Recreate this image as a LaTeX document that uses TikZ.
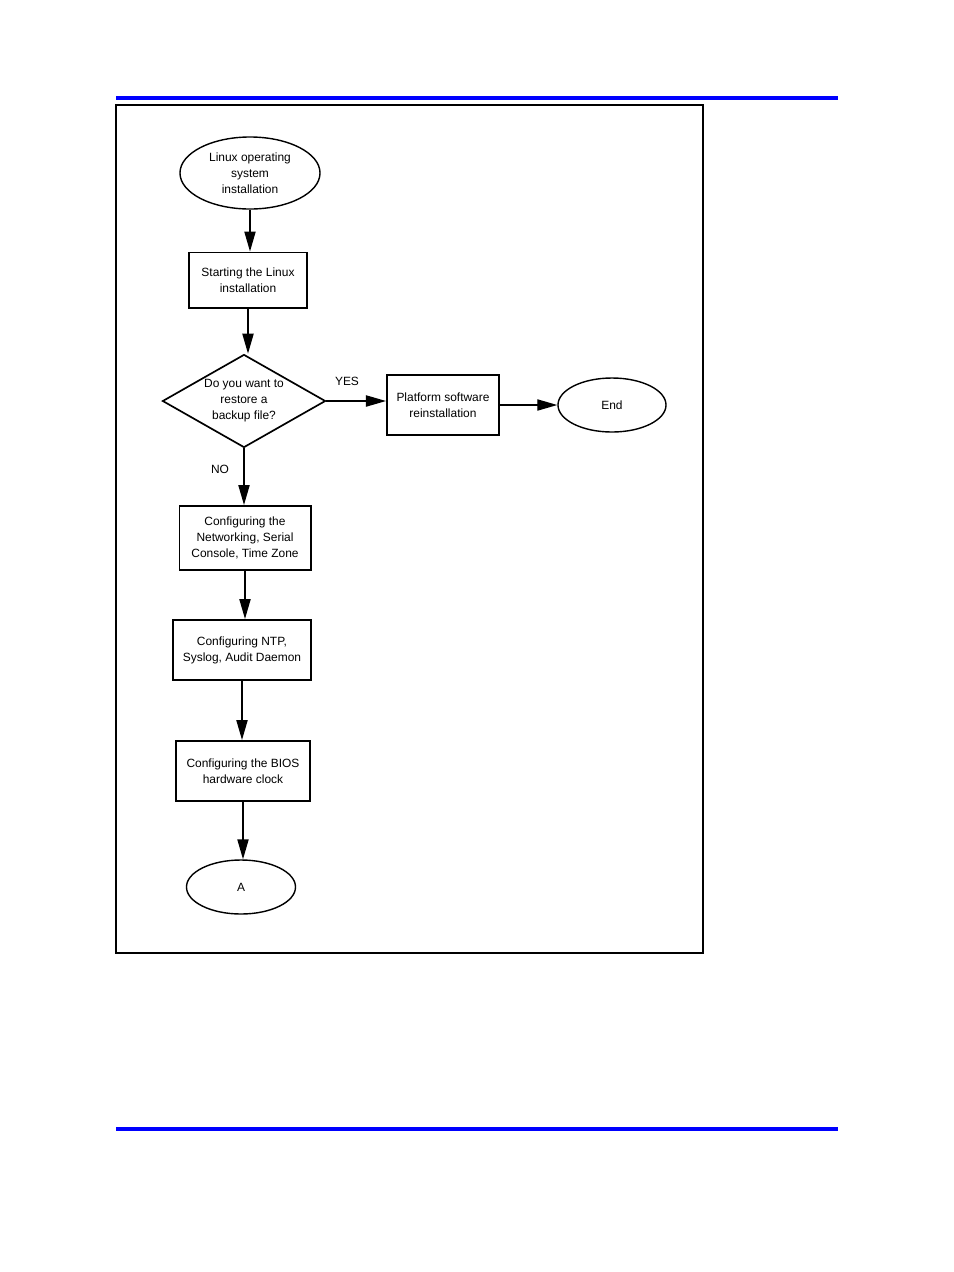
\documentclass[tikz,border=0pt]{standalone}
\usepackage{fontspec}
\setmainfont{Liberation Sans}
\usetikzlibrary{shapes.geometric,arrows.meta}
\tikzset{
  box/.style={draw, line width=1.4pt, align=center, inner sep=0pt},
  term/.style={draw, ellipse, line width=1pt, align=center, inner sep=0pt},
  choice/.style={draw, diamond, aspect=1.75, line width=1.2pt, align=center, inner sep=0pt},
  flow/.style={line width=1pt, -{Triangle[length=0.5cm,width=0.28cm]}},
  band/.style={blue, line width=2.8pt},
}
\begin{document}
\begin{tikzpicture}[x=0.025cm,y=-0.025cm,font=\fontsize{8.5}{11.4}\selectfont]
	\useasboundingbox[fill=white] (0,0) rectangle (954,1272);
	
	%BANDE
	\draw[band] (116,98) -- (838,98);
	\draw[band] (116,1129) -- (838,1129);
	
	%CORNICE
	\draw[line width=1pt] (116,105) rectangle (703,953);
	
	%NODI
	\node[term, minimum width=3.5cm, minimum height=1.8cm] (linux) at (250,173) {Linux operating\\system\\installation};
	\node[box, minimum width=2.95cm, minimum height=1.375cm] (startinst) at (248,280) {Starting the Linux\\installation};
	\node[choice, minimum width=4.075cm, minimum height=2.325cm] (backup) at (244,401) {Do you want to\\restore a\\backup file?};
	\node[box, minimum width=2.8cm, minimum height=1.5cm] (platform) at (443,405) {Platform software\\reinstallation};
	\node[term, minimum width=2.7cm, minimum height=1.35cm] (fine) at (612,405) {End};
	\node[box, minimum width=3.275cm, minimum height=1.6cm] (network) at (245,538) {Configuring the\\Networking, Serial\\Console, Time Zone};
	\node[box, minimum width=3.425cm, minimum height=1.5cm] (ntp) at (242,650) {Configuring NTP,\\Syslog, Audit Daemon};
	\node[box, minimum width=3.35cm, minimum height=1.5cm] (bios) at (243,771) {Configuring the BIOS\\hardware clock};
	\node[term, minimum width=2.725cm, minimum height=1.35cm] (conn) at (241,887) {A};
	
	%ETICHETTE
	\node (yes) at (347,381) {YES};
	\node (no) at (220,469) {NO};
	
	%FRECCE
	\draw[flow] (linux.south) -- (linux.south |- startinst.north);
	\draw[flow] (startinst.south) -- (startinst.south |- backup.north);
	\draw[flow] (backup.east) -- (backup.east -| platform.west);
	\draw[flow] (platform.east) -- (platform.east -| fine.west);
	\draw[flow] (backup.south) -- (backup.south |- network.north);
	\draw[flow] (network.south) -- (network.south |- ntp.north);
	\draw[flow] (ntp.south) -- (ntp.south |- bios.north);
	\draw[flow] (bios.south) -- (bios.south |- conn.north);
\end{tikzpicture}
\end{document}
